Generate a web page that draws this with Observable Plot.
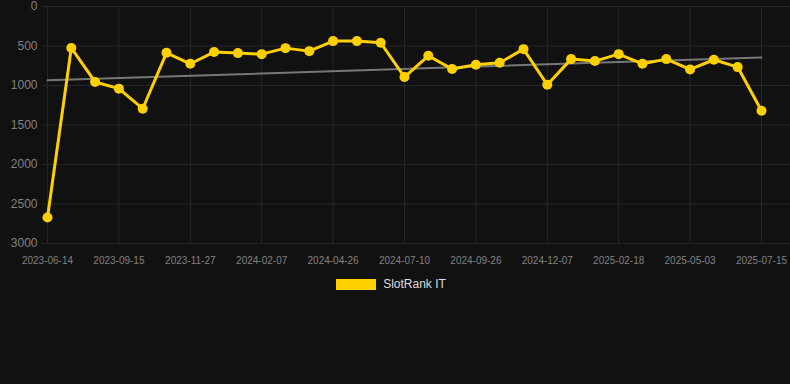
<!DOCTYPE html>
<html>
<head>
<meta charset="utf-8">
<script src="https://cdn.jsdelivr.net/npm/d3@7"></script>
<script src="https://cdn.jsdelivr.net/npm/@observablehq/plot@0.6"></script>
<style>
  html, body { margin: 0; padding: 0; background: #111111; }
  body { width: 790px; height: 384px; overflow: hidden; font-family: "Liberation Sans", Arial, sans-serif; }
  #legend { display: flex; justify-content: center; align-items: center; padding-top: 7px; padding-right: 8px; height: 14px; }
  #legend .box { width: 40px; height: 11px; background: #FFD000; margin-right: 7px; }
  #legend .lbl { color: #dddddd; font-size: 12px; line-height: 14px; }
</style>
</head>
<body>
<div id="chart"></div>
<div id="legend"><span class="box"></span><span class="lbl">SlotRank IT</span></div>
<script>
const dates = [
  "2023-06-14","2023-07-15","2023-08-15","2023-09-15","2023-10-09","2023-11-02",
  "2023-11-27","2023-12-21","2024-01-14","2024-02-07","2024-03-03","2024-04-01",
  "2024-04-26","2024-05-21","2024-06-15","2024-07-10","2024-08-05","2024-08-31",
  "2024-09-26","2024-10-20","2024-11-13","2024-12-07","2024-12-31","2025-01-24",
  "2025-02-18","2025-03-15","2025-04-08","2025-05-03","2025-05-28","2025-06-21",
  "2025-07-15"
];
const ranks = [
  2670, 525, 955, 1040, 1294, 586, 725, 577, 590, 603, 527, 565, 438, 438, 459,
  893, 624, 792, 737, 712, 540, 990, 666, 691, 603, 725, 666, 796, 674, 767, 1319
];
const tickDates = ["2023-06-14","2023-09-15","2023-11-27","2024-02-07","2024-04-26","2024-07-10",
  "2024-09-26","2024-12-07","2025-02-18","2025-05-03","2025-07-15"];
const yTicks = [0, 500, 1000, 1500, 2000, 2500, 3000];
const trendDates = ["2023-06-14", "2025-07-15"];
const trendValues = [935, 645];

// categorical positions: index of each date label
const idx = d => dates.indexOf(d);
const data = dates.map((d, i) => ({i: idx(d), rank: ranks[i]}));
const trend = trendDates.map((d, i) => ({i: idx(d), rank: trendValues[i]}));
const tickIdx = tickDates.map(idx);

const gridColor = "#262626";
const textColor = "#828282";
const chart = Plot.plot({
  width: 790,
  height: 270,
  marginLeft: 42,
  marginRight: 0,
  marginTop: 6,
  marginBottom: 27,
  style: {background: "#111111", color: textColor, fontFamily: "'Liberation Sans', Arial, sans-serif", fontSize: "12px"},
  x: {type: "linear", domain: [0, dates.length - 1], range: [47, 761], axis: null, label: null},
  y: {domain: [0, 3000], range: [6, 243], axis: null, label: null},
  marks: [
    Plot.ruleY(yTicks, {stroke: gridColor, strokeWidth: 1}),
    Plot.ruleX(tickIdx, {y1: 0, y2: 3000, stroke: gridColor, strokeWidth: 1}),
    Plot.axisY({ticks: yTicks, anchor: "left", label: null, tickFormat: d => String(d), tickSize: 0, tickPadding: 5, fill: textColor, fontSize: 12}),
    Plot.axisX({ticks: tickIdx, anchor: "bottom", label: null, tickFormat: i => dates[i], tickSize: 0, tickPadding: 13, fill: textColor, fontSize: 10}),
    Plot.line(trend, {x: "i", y: "rank", stroke: "#777777", strokeWidth: 2}),
    Plot.line(data, {x: "i", y: "rank", stroke: "#FFD000", strokeWidth: 3, strokeLinejoin: "round"}),
    Plot.dot(data, {x: "i", y: "rank", r: 5, fill: "#FFD000", stroke: "none"})
  ]
});
document.getElementById("chart").appendChild(chart);
</script>
</body>
</html>
